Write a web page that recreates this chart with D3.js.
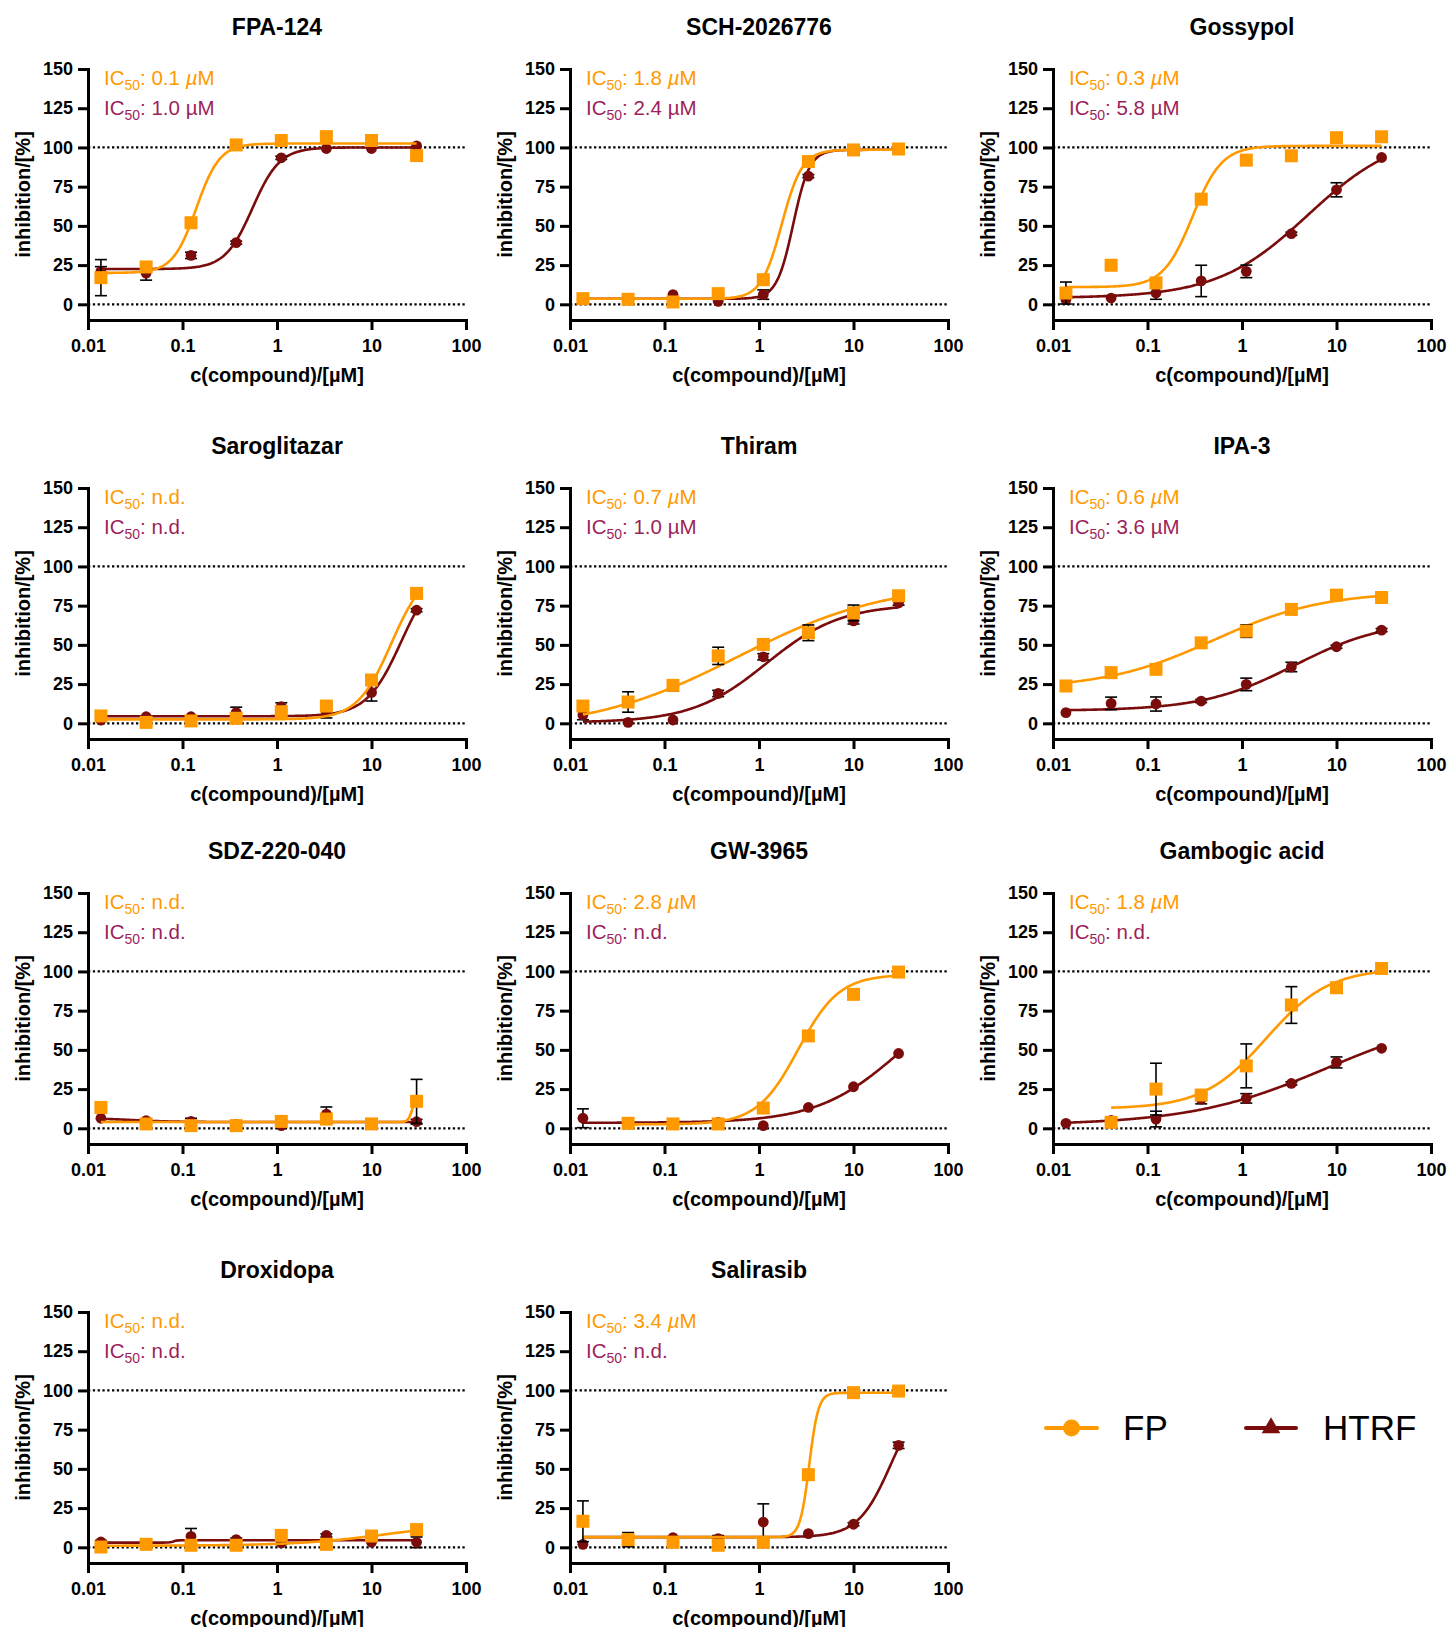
<!DOCTYPE html>
<html>
<head>
<meta charset="utf-8">
<script src="https://cdn.jsdelivr.net/npm/d3@7"></script>
<style>
  body { margin: 0; background: #fff; }
  svg { display: block; font-family: "Liberation Sans", Arial, sans-serif; }
</style>
</head>
<body>
<div id="chart"></div>
<script>
// data
var concentrations = [0.0137, 0.0412, 0.123, 0.370, 1.11, 3.33, 10, 30];

var compounds = ['FPA-124', 'SCH-2026776', 'Gossypol', 'Saroglitazar', 'Thiram', 'IPA-3',
  'SDZ-220-040', 'GW-3965', 'Gambogic acid', 'Droxidopa', 'Salirasib'];

var fpIC50 = ['0.1', '1.8', '0.3', 'n.d.', '0.7', '0.6', 'n.d.', '2.8', '1.8', 'n.d.', '3.4'];
var htrfIC50 = ['1.0', '2.4', '5.8', 'n.d.', '1.0', '3.6', 'n.d.', 'n.d.', 'n.d.', 'n.d.', 'n.d.'];

var fpValues = [
  [17, 23.8, 52, 101.6, 104.4, 106.9, 104.4, 94.8],
  [3.6, 3.2, 1.5, 6.8, 15.7, 91, 98.4, 99],
  [7.2, 24.9, 13.6, 67, 91.9, 94.7, 106.2, 106.8],
  [4.7, 0.6, 1.5, 3.2, 7.4, 11, 27.6, 82.8],
  [11, 13.6, 24.2, 43, 50.3, 57.7, 70.4, 81.3],
  [23.8, 32.3, 34.4, 51.3, 58.8, 72.6, 81.7, 80.2],
  [13.3, 2.8, 1.7, 1.7, 4.4, 5.9, 2.8, 17.2],
  [null, 3.2, 2.8, 2.8, 12.9, 58.9, 85.4, 99.6],
  [null, 3.8, 25, 21.2, 39.8, 78.6, 89.6, 101.9],
  [0.2, 1.9, 1.3, 1.3, 7.6, 1.9, 7.2, 11.3],
  [16.6, 4.9, 3.2, 1.3, 3.2, 46.3, 98.6, 99.6]
];
var fpErrors = [
  [11.5, 3, 1, 0, 0, 0, 0, 0],
  [0.5, 0.5, 0.5, 1, 1, 1, 0.5, 0.5],
  [7, 0, 0, 0, 0, 0, 0, 0],
  [0, 0, 0, 0, 0, 2, 0, 1],
  [0, 6.5, 3.5, 5.5, 1, 5, 5, 1],
  [0, 0, 0, 0, 4, 0, 0, 0],
  [0, 0, 0, 0, 0, 0, 0, 14],
  [0, 0, 0, 0, 0, 0, 0, 0],
  [0, 0, 16.5, 1, 14, 11.7, 0, 0],
  [0, 0, 0, 0, 0, 0, 0, 0],
  [13, 4.5, 0, 1, 0, 0, 0, 0]
];

var htrfValues = [
  [21, 19.9, 31.2, 39.3, 93.4, 99.3, 99.3, 101],
  [3.5, 3, 6.2, 1.9, 6.2, 81.7, 98, 99],
  [3, 4, 7.2, 14.9, 21, 45, 73, 93.6],
  [2, 4.2, 4.2, 6.8, 10.6, 7.4, 19.7, 72.1],
  [5.3, 0.6, 2.1, 19, 42.4, 57.7, 65.3, 76.8],
  [6.8, 12.7, 12.3, 14.2, 24.8, 35.9, 48.8, 59.4],
  [6.4, 4.9, 4.4, 2.5, 1.7, 9.1, 2.3, 4.2],
  [6.4, 3.5, 3, 3.8, 1.7, 13.3, 26.5, 47.7],
  [3.2, 5, 5.9, 18.6, 19.1, 28.6, 42, 51],
  [3.4, 2.3, 7.0, 4.9, 2.8, 7.6, 3.2, 3.2],
  [1.9, 5.5, 6.2, 5.5, 16.1, 8.7, 14.7, 65]
];
var htrfErrors = [
  [3, 4.5, 2, 1, 1, 0, 0, 0],
  [0, 0, 0, 0, 3, 1, 0, 0],
  [0, 0, 4, 10, 4, 1, 4.5, 0],
  [0, 0, 0, 3.5, 2.5, 4, 5.5, 1],
  [3, 0, 0, 2, 2, 3, 2, 1.5],
  [0, 4, 4.5, 1, 4, 3, 1, 1],
  [0, 0, 2, 0, 0, 4.5, 0, 1.5],
  [6, 0, 0, 0, 0, 0, 0, 0],
  [0, 0, 5, 3, 3, 1, 3.5, 0],
  [1, 0, 5, 1, 1, 1, 0, 3.4],
  [0, 0, 0, 2, 11.6, 0, 1, 2]
];

// fitted curves as drawn: [bottom, top, IC50, hill, first concentration]
var fpFits = [
  [20, 102.5, 0.14, 3.5, 0.0137],
  [3.5, 98.5, 1.74, 4, 0.0137],
  [11, 101, 0.3, 2.8, 0.0137],
  [2.5, 100, 16.3, 2.4, 0.0137],
  [-5, 90, 0.6, 0.55, 0.0137],
  [22, 84, 0.5, 0.75, 0.0137],
  [4, 20, 27, 20, 0.0137],
  [2.5, 98, 2.6, 2, 0.0412],
  [12.5, 102, 1.8, 1.3, 0.0412],
  [1, 16, 15, 0.9, 0.0137],
  [6.5, 98.5, 3.4, 9, 0.0137]
];
var htrfFits = [
  [22.5, 100, 0.55, 3, 0.0137],
  [3.5, 98.5, 2.3, 5, 0.0137],
  [4, 110, 5, 0.9, 0.0137],
  [4.5, 100, 20.7, 2.37, 0.0137],
  [0.5, 76, 1.2, 1.1, 0.0137],
  [8, 66, 3.6, 0.9, 0.0137],
  [6.5, 4, 0.03, 2, 0.0137],
  [3.5, 92, 30, 1, 0.0137],
  [2, 75, 8, 0.6, 0.0137],
  [3, 4.5, 0.08, 20, 0.0137],
  [6.5, 100, 25, 2.5, 0.0137]
];

var xTicks = [0.01, 0.1, 1, 10, 100];
var yTicks = [0, 25, 50, 75, 100, 125, 150];

var colFP = '#ff9900';
var colHTRF = '#7a0c0c';
var colHTRFText = '#9c1f5b';

var colX = [88, 570, 1053];
var rowY = [69, 488, 893, 1312];
var plotW = 378, plotH = 251;

var svg = d3.select('#chart').append('svg')
  .attr('width', 1450)
  .attr('height', 1627);

var x = d3.scaleLog().domain([0.01, 100]).range([0, plotW]);
var y = d3.scaleLinear().domain([-10, 150]).range([plotH, 0]);

function logistic(p, c) {
  return p[0] + (p[1] - p[0]) / (1 + Math.pow(p[2] / c, p[3]));
}

var line = d3.line()
  .x(function(d) { return x(d[0]); })
  .y(function(d) { return y(d[1]); });

function drawSeries(g, values, errors, fit, color, symbol) {
  var cEnd = concentrations[concentrations.length - 1];
  var lo = Math.log10(fit[4]), hi = Math.log10(cEnd);
  var pts = d3.range(0, 301).map(function(k) {
    var c = Math.pow(10, lo + (hi - lo) * k / 300);
    return [c, logistic(fit, c)];
  });
  g.append('path')
    .attr('d', line(pts))
    .attr('fill', 'none')
    .attr('stroke', color)
    .attr('stroke-width', 2.6);

  var pts2 = concentrations.map(function(c, k) {
    return { c: c, v: values[k], e: errors[k] };
  }).filter(function(d) { return d.v !== null; });

  var eb = g.append('g').attr('class', 'errbars')
    .attr('stroke', '#000').attr('stroke-width', 1.6).attr('fill', 'none');
  pts2.filter(function(d) { return d.e > 0; }).forEach(function(d) {
    var cx = x(d.c), y1 = y(d.v + d.e), y2 = y(d.v - d.e);
    eb.append('line').attr('x1', cx).attr('x2', cx).attr('y1', y1).attr('y2', y2);
    eb.append('line').attr('x1', cx - 6).attr('x2', cx + 6).attr('y1', y1).attr('y2', y1);
    eb.append('line').attr('x1', cx - 6).attr('x2', cx + 6).attr('y1', y2).attr('y2', y2);
  });

  if (symbol === 'square') {
    g.selectAll(null).data(pts2).enter().append('rect')
      .attr('x', function(d) { return x(d.c) - 6.5; })
      .attr('y', function(d) { return y(d.v) - 6.5; })
      .attr('width', 13).attr('height', 13)
      .attr('fill', color);
  } else {
    g.selectAll(null).data(pts2).enter().append('circle')
      .attr('cx', function(d) { return x(d.c); })
      .attr('cy', function(d) { return y(d.v); })
      .attr('r', 5.4)
      .attr('fill', color);
  }
}

function ic50Label(g, yPos, value, color, italicMu) {
  var t = g.append('text').attr('x', 16).attr('y', yPos)
    .attr('fill', color).attr('font-size', 20.5);
  t.append('tspan').text('IC');
  t.append('tspan').attr('font-size', 14).attr('dy', 5).text('50');
  if (value === 'n.d.') {
    t.append('tspan').attr('dy', -5).text(': n.d.');
  } else {
    t.append('tspan').attr('dy', -5).text(': ' + value + ' ');
    t.append('tspan').attr('font-style', italicMu ? 'italic' : 'normal').text('\u00b5');
    t.append('tspan').text('M');
  }
}

compounds.forEach(function(name, i) {
  var g = svg.append('g')
    .attr('transform', 'translate(' + colX[i % 3] + ',' + rowY[Math.floor(i / 3)] + ')');

  // reference lines at 0 and 100 %
  [0, 100].forEach(function(v) {
    g.append('line')
      .attr('x1', 0).attr('x2', plotW)
      .attr('y1', y(v)).attr('y2', y(v))
      .attr('stroke', '#000').attr('stroke-width', 2.3)
      .attr('stroke-dasharray', '2.3,2.5');
  });

  var yAxis = g.append('g')
    .call(d3.axisLeft(y).tickValues(yTicks).tickSize(10).tickSizeOuter(0).tickPadding(5));
  var xAxis = g.append('g')
    .attr('transform', 'translate(0,' + plotH + ')')
    .call(d3.axisBottom(x).tickValues(xTicks).tickSize(10).tickSizeOuter(0).tickPadding(9)
      .tickFormat(function(d) { return String(d); }));

  [yAxis, xAxis].forEach(function(a) {
    a.select('.domain').attr('stroke-width', 3).attr('stroke-linecap', 'square');
    a.selectAll('.tick line').attr('stroke-width', 3);
    a.selectAll('.tick text')
      .attr('font-size', 18).attr('font-weight', 'bold')
      .attr('font-family', '"Liberation Sans", Arial, sans-serif')
      .attr('fill', '#000');
  });

  drawSeries(g, htrfValues[i], htrfErrors[i], htrfFits[i], colHTRF, 'circle');
  drawSeries(g, fpValues[i], fpErrors[i], fpFits[i], colFP, 'square');

  g.append('text')
    .attr('x', plotW / 2).attr('y', -34)
    .attr('text-anchor', 'middle')
    .attr('font-size', 23).attr('font-weight', 'bold')
    .text(name);

  g.append('text')
    .attr('x', plotW / 2).attr('y', plotH + 62)
    .attr('text-anchor', 'middle')
    .attr('font-size', 20).attr('font-weight', 'bold')
    .text('c(compound)/[\u00b5M]');

  g.append('text')
    .attr('transform', 'translate(-65,' + (plotH / 2) + ') rotate(-90)')
    .attr('text-anchor', 'middle')
    .attr('dominant-baseline', 'central')
    .attr('font-size', 20).attr('font-weight', 'bold')
    .text('inhibition/[%]');

  ic50Label(g, 16, fpIC50[i], colFP, true);
  ic50Label(g, 46, htrfIC50[i], colHTRFText, false);
});

// legend
var legend = svg.append('g').attr('class', 'legend');
var fpL = legend.append('g').attr('transform', 'translate(1046,1428)');
fpL.append('line').attr('x1', 0).attr('x2', 51).attr('stroke', colFP)
  .attr('stroke-width', 4).attr('stroke-linecap', 'round');
fpL.append('circle').attr('cx', 25.5).attr('r', 8.5).attr('fill', colFP);
fpL.append('text').attr('x', 77).attr('y', 12).attr('font-size', 35).text('FP');

var htL = legend.append('g').attr('transform', 'translate(1246,1428)');
htL.append('line').attr('x1', 0).attr('x2', 50).attr('stroke', colHTRF)
  .attr('stroke-width', 4).attr('stroke-linecap', 'round');
htL.append('path').attr('d', d3.symbol().type(d3.symbolTriangle).size(150)())
  .attr('transform', 'translate(25,0)')
  .attr('fill', colHTRF);
htL.append('text').attr('x', 77).attr('y', 12).attr('font-size', 35).text('HTRF');
</script>
</body>
</html>
